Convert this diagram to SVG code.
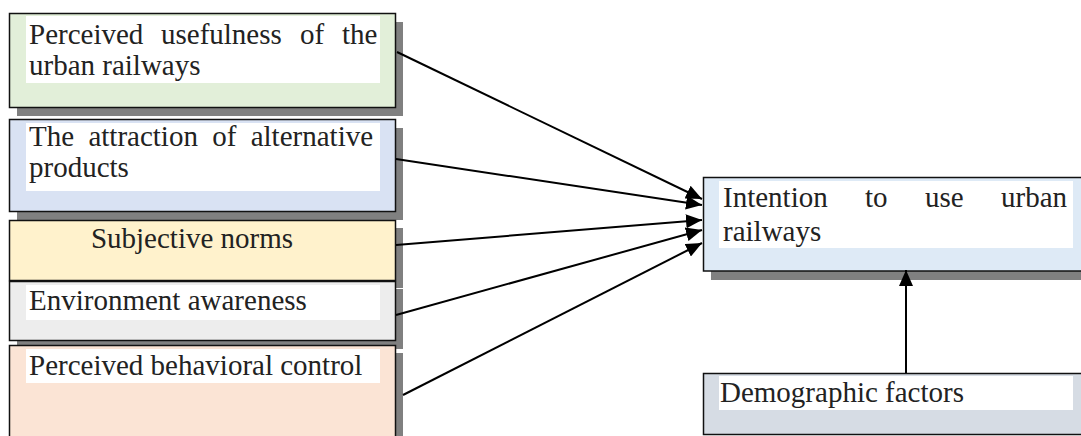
<svg xmlns="http://www.w3.org/2000/svg" width="1081" height="436" viewBox="0 0 1081 436">
<style>
  .shadow { fill: #808080; }
  .box { stroke: #111; stroke-width: 1.5; }
  .hl { fill: #ffffff; }
  .t { font-family: 'Liberation Serif', 'DejaVu Serif', serif; font-size: 29px; fill: #222; }
  .conn { stroke: #000; stroke-width: 2; fill: none; marker-end: url(#arrow); }
</style>
<defs>
  <marker id="arrow" viewBox="0 0 16 14" refX="16" refY="7" markerWidth="16" markerHeight="14" markerUnits="userSpaceOnUse" orient="auto">
    <path d="M0,0 L16,7 L0,14 z" fill="#000"/>
  </marker>
</defs>
<rect width="1081" height="436" fill="#fff"/>

<g id="n1">
  <rect class="shadow" x="17" y="22" width="386" height="94"/>
  <rect class="box" x="9.5" y="13.5" width="386" height="94" fill="#E2EFD9"/>
  <rect class="hl" x="26" y="16" width="354" height="67"/>
  <text class="t" y="44"><tspan x="29">Perceived</tspan><tspan x="161">usefulness</tspan><tspan x="300">of</tspan><tspan x="342">the</tspan></text>
  <text class="t" x="29" y="75">urban railways</text>
</g>

<g id="n2">
  <rect class="shadow" x="17" y="128" width="386" height="92"/>
  <rect class="box" x="9.5" y="119.5" width="386" height="92" fill="#D9E2F3"/>
  <rect class="hl" x="26" y="123" width="354" height="68"/>
  <text class="t" y="146"><tspan x="29">The</tspan><tspan x="88.4">attraction</tspan><tspan x="212.2">of</tspan><tspan x="250.7">alternative</tspan></text>
  <text class="t" x="29" y="177">products</text>
</g>

<g id="n3">
  <rect class="shadow" x="17" y="228" width="386" height="60"/>
  <rect class="box" x="9.5" y="220.5" width="386" height="60" fill="#FFF2CC"/>
  <text class="t" x="192" y="248" text-anchor="middle">Subjective norms</text>
</g>

<g id="n4">
  <rect class="shadow" x="17" y="289" width="386" height="60"/>
  <rect class="box" x="9.5" y="281.5" width="386" height="59" fill="#EDEDED"/>
  <rect class="hl" x="26" y="285" width="354" height="35"/>
  <text class="t" x="29" y="310">Environment awareness</text>
</g>

<g id="n5">
  <rect class="shadow" x="17" y="353" width="386" height="100"/>
  <rect class="box" x="9.5" y="345.5" width="386" height="100" fill="#FBE4D5"/>
  <rect class="hl" x="26" y="349" width="354" height="34"/>
  <text class="t" x="29" y="375">Perceived behavioral control</text>
</g>

<g id="n6">
  <rect class="shadow" x="711" y="186" width="400" height="94"/>
  <rect class="box" x="703.5" y="177.5" width="400" height="93.5" fill="#DEEAF6"/>
  <rect class="hl" x="719" y="181" width="354" height="67"/>
  <text class="t" y="207"><tspan x="723">Intention</tspan><tspan x="865">to</tspan><tspan x="925">use</tspan><tspan x="1001">urban</tspan></text>
  <text class="t" x="723" y="241">railways</text>
</g>

<g id="n7">
  <rect class="box" x="703.5" y="373.5" width="400" height="61" fill="#D6DCE4"/>
  <rect class="hl" x="719" y="376" width="354" height="34"/>
  <text class="t" x="720" y="402">Demographic factors</text>
</g>

<g id="connectors">
  <line class="conn" x1="397" y1="52" x2="702" y2="199"/>
  <line class="conn" x1="396" y1="159" x2="702" y2="205"/>
  <line class="conn" x1="396" y1="245" x2="702" y2="220"/>
  <line class="conn" x1="396" y1="315" x2="702" y2="230"/>
  <line class="conn" x1="403" y1="395" x2="702" y2="243"/>
  <line class="conn" x1="906" y1="373" x2="906" y2="270"/>
</g>
</svg>
